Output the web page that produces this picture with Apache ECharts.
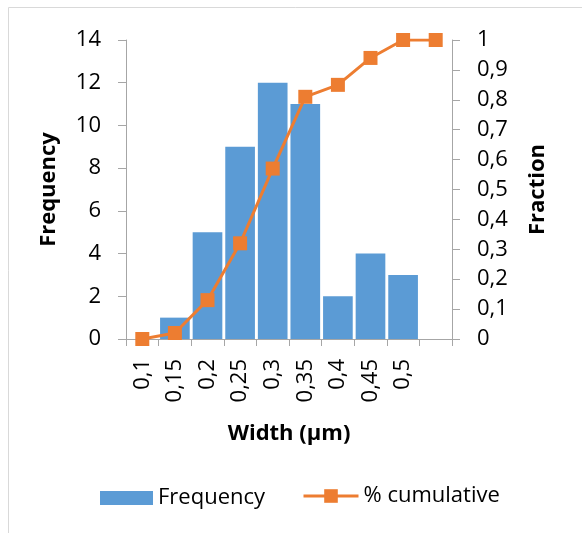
<!DOCTYPE html>
<html>
<head>
<meta charset="utf-8">
<script src="https://cdn.jsdelivr.net/npm/echarts@6/dist/echarts.min.js"></script>
<style>
html,body{margin:0;padding:0;background:#fff;overflow:hidden;}
#main{width:582px;height:533px;}
</style>
</head>
<body>
<div id="main"></div>
<script>
// bin labels (last bin is the empty "more" bin)
const widthBins=['0,1','0,15','0,2','0,25','0,3','0,35','0,4','0,45','0,5',''];
const frequency=[0,1,5,9,12,11,2,4,3,0];
// cumulative fraction
const cumulative=[0,0.02,0.13,0.32,0.57,0.81,0.85,0.94,1,1];

const FONT='"Open Sans", sans-serif';
const axisGray='#a6a6a6';

const chart=echarts.init(document.getElementById('main'));

const option={
    animation:false,
    textStyle:{fontFamily:FONT},
    graphic:[{
        type:'rect',
        shape:{x:8.5,y:7.5,width:700,height:700},
        style:{fill:'none',stroke:'#d9d9d9',lineWidth:1},
        silent:true
    }],
    grid:{left:126,right:130,top:40,bottom:194},
    legend:[
        {
            data:['Frequency'],
            left:100,top:487,padding:0,
            itemWidth:53,itemHeight:14,
            icon:'rect',
            textStyle:{fontSize:22,color:'#000',fontFamily:FONT}
        },
        {
            data:['% cumulative'],
            left:302,top:485,padding:0,
            itemWidth:55,itemHeight:17,
            lineStyle:{width:3},
            textStyle:{fontSize:22,color:'#000',fontFamily:FONT}
        }
    ],
    xAxis:{
        type:'category',
        data:widthBins,
        name:'Width (μm)',
        nameLocation:'middle',
        nameGap:84,
        nameTextStyle:{fontSize:22,fontWeight:'bold',color:'#000',fontFamily:FONT},
        axisLine:{lineStyle:{color:axisGray,width:1}},
        axisTick:{show:true,length:7,lineStyle:{color:axisGray}},
        axisLabel:{rotate:90,fontSize:22,color:'#000',margin:20,fontFamily:FONT}
    },
    yAxis:[
        {
            type:'value',
            min:0,max:14,interval:2,
            name:'Frequency',
            nameLocation:'middle',
            nameGap:66,
            nameTextStyle:{fontSize:22,fontWeight:'bold',color:'#000',fontFamily:FONT},
            axisLine:{show:true,lineStyle:{color:axisGray}},
            axisTick:{show:true,length:8,lineStyle:{color:axisGray}},
            axisLabel:{fontSize:22,color:'#000',margin:25,fontFamily:FONT},
            splitLine:{show:false}
        },
        {
            type:'value',
            min:0,max:1,interval:0.1,
            name:'Fraction',
            nameLocation:'middle',
            nameGap:75,
            nameTextStyle:{fontSize:22,fontWeight:'bold',color:'#000',fontFamily:FONT},
            axisLine:{show:true,lineStyle:{color:axisGray}},
            axisTick:{show:true,length:8,lineStyle:{color:axisGray}},
            axisLabel:{
                fontSize:22,color:'#000',margin:25,fontFamily:FONT,
                formatter:v=>String(Math.round(v*10)/10).replace('.',',')
            },
            splitLine:{show:false}
        }
    ],
    series:[
        {
            name:'Frequency',
            type:'bar',
            data:frequency,
            barCategoryGap:'9%',
            itemStyle:{color:'#5b9bd5'}
        },
        {
            name:'% cumulative',
            type:'line',
            yAxisIndex:1,
            data:cumulative,
            symbol:'rect',
            symbolSize:14,
            lineStyle:{color:'#ed7d31',width:3},
            itemStyle:{color:'#ed7d31'}
        }
    ]
};

chart.setOption(option);
</script>
</body>
</html>
